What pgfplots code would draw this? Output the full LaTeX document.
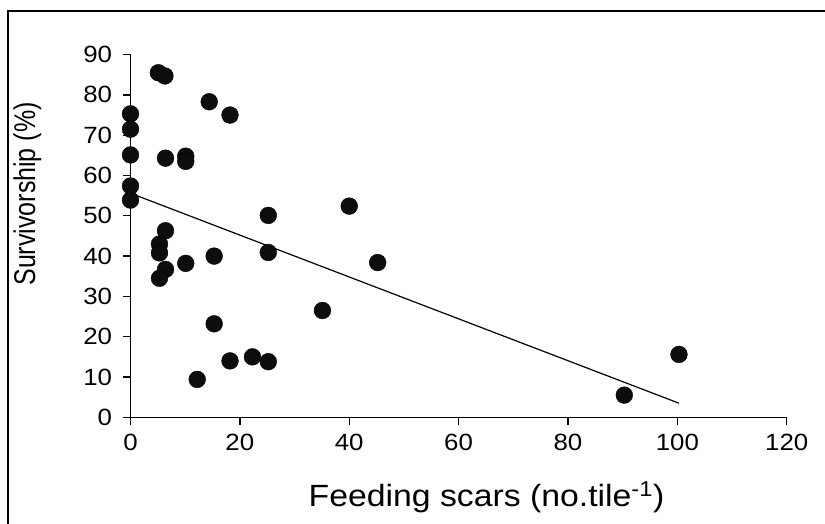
\documentclass[border=0pt]{standalone}
\usepackage{fontspec}
\setmainfont{Liberation Sans}
\usepackage{pgfplots}
\pgfplotsset{compat=1.18}
\begin{document}
\begin{tikzpicture}
\useasboundingbox (0pt,0pt) rectangle (825pt,523pt);
% frame along the top and left edges
\draw[line width=1.5pt] (8pt,-3pt) -- (8pt,512pt) -- (828pt,512pt);
\begin{axis}[
  at={(130.5pt,105.7pt)}, anchor=south west,
  scale only axis, width=656.2pt, height=362.7pt,
  xmin=0, xmax=120, ymin=0, ymax=90,
  xtick={0,20,...,120}, ytick={0,10,...,90},
  axis x line*=bottom, axis y line*=left,
  axis line style={line width=1.4pt,-},
  tick style={line width=1.3pt, black},
  tick align=outside, major tick length=7.5pt,
  clip=false,
  /pgf/number format/assume math mode=true,
  ticklabel style={font=\fontsize{23.5}{23.5}\selectfont, xscale=1.1},
  yticklabel style={xshift=-6.4pt},
  xticklabel style={yshift=-6pt},
  xlabel={Feeding scars (no.tile\textsuperscript{-1})},
  ylabel={Survivorship (\%)},
  xlabel style={font=\fontsize{30.7}{30.7}\selectfont, xscale=1.1,
    at={(axis description cs:0.5425,-0.2446)}, anchor=base},
  ylabel style={font=\fontsize{25}{25}\selectfont,
    at={(axis description cs:-0.1455,0.6157)}, anchor=base, yscale=1.2},
]
% fitted regression line
\addplot[black, line width=1.2pt, no marks] coordinates {(0,55.6) (100.3,3.5)};
% observations
\addplot[only marks, mark=*, mark size=8.4pt, mark options={fill=black!95, draw=none}]
coordinates {
  (0,75.3) (0,71.5) (0,65.1) (0,57.4) (0,53.9)
  (5.1,85.5) (6.3,84.7) (14.4,78.3) (18.2,75.0)
  (6.4,64.3) (10.1,64.8) (10.1,63.5)
  (25.2,50.1) (25.2,40.9) (6.4,46.3)
  (5.3,43.0) (5.3,40.8) (6.4,36.7) (5.3,34.5)
  (10.1,38.2) (15.3,40.0) (15.3,23.2) (12.2,9.4)
  (18.2,14.0) (22.3,15.0) (25.2,13.8)
  (40.0,52.4) (45.2,38.4) (35.1,26.5)
  (90.3,5.5) (100.3,15.6)
};
\end{axis}
\end{tikzpicture}
\end{document}
